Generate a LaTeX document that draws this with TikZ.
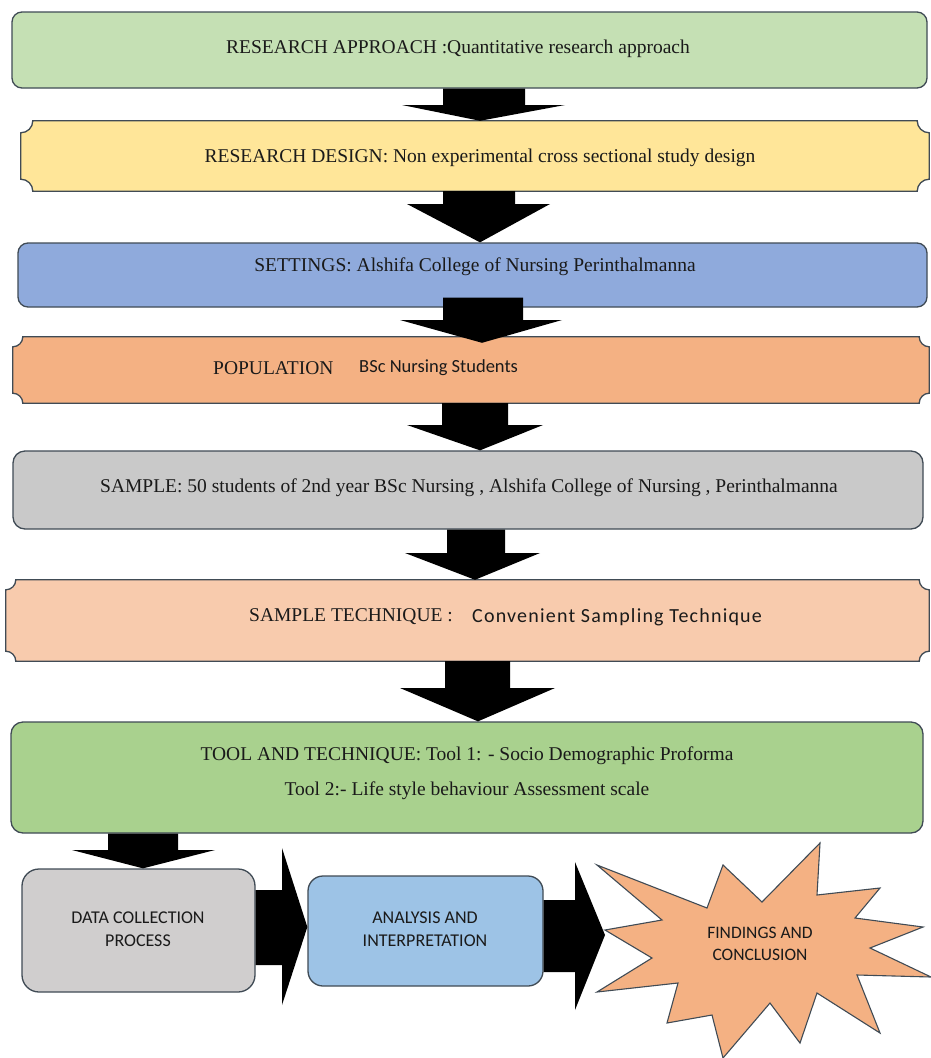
\documentclass[tikz,border=0pt]{standalone}
\usepackage{fontspec}
\setmainfont{Liberation Serif}
\newfontfamily\calfont{Carlito}
\newfontfamily\calspfont[LetterSpace=6]{Carlito}
\usetikzlibrary{calc}
\definecolor{edgec}{HTML}{404B55}
\definecolor{txtc}{HTML}{1A1A1A}
\definecolor{cA}{HTML}{C5E0B4}
\definecolor{cB}{HTML}{FFE699}
\definecolor{cC}{HTML}{8FAADC}
\definecolor{cD}{HTML}{F4B183}
\definecolor{cE}{HTML}{C9C9C9}
\definecolor{cF}{HTML}{F8CBAD}
\definecolor{cG}{HTML}{A9D18E}
\definecolor{cH}{HTML}{D0CECE}
\definecolor{cI}{HTML}{9DC3E6}
\definecolor{cJ}{HTML}{F4B183}
\newcommand\plaquedraw[3]{%
 \path[#3] ($(#1.north west)+(#2,0)$) -- ($(#1.north east)+(-#2,0)$)
   .. controls ($(#1.north east)+(-#2,0.552*#2)$) and ($(#1.north east)+(-0.552*#2,#2)$) .. ($(#1.north east)+(0,#2)$)
   -- ($(#1.south east)+(0,-#2)$)
   .. controls ($(#1.south east)+(-0.552*#2,-#2)$) and ($(#1.south east)+(-#2,-0.552*#2)$) .. ($(#1.south east)+(-#2,0)$)
   -- ($(#1.south west)+(#2,0)$)
   .. controls ($(#1.south west)+(#2,-0.552*#2)$) and ($(#1.south west)+(0.552*#2,-#2)$) .. ($(#1.south west)+(0,-#2)$)
   -- ($(#1.north west)+(0,#2)$)
   .. controls ($(#1.north west)+(0.552*#2,#2)$) and ($(#1.north west)+(#2,0.552*#2)$) .. cycle;}
\tikzset{
 rbox/.style={draw=edgec, line width=1.3pt, rounded corners=#1, rectangle, inner sep=0pt},
 pbox/.style={rectangle, inner sep=0pt},
 pline/.style={draw=edgec, line width=1.3pt},
 serif/.style={font=\fontsize{19.5}{23}\selectfont, text=txtc, inner sep=0pt},
 sans/.style={font=\calfont\fontsize{18}{23}\selectfont, text=txtc, inner sep=0pt, align=center},
 blk/.style={fill=black},
}
\begin{document}
\begin{tikzpicture}[x=1pt,y=-1pt]
\useasboundingbox (0,0) rectangle (931,1058);
\fill[white] (0,0) rectangle (931,1058);
% boxes
\node[rbox=10, fill=cA, minimum width=915pt, minimum height=76pt] (b1) at (469.5,50) {};
\node[pbox, minimum width=908pt, minimum height=70pt] (b2) at (475,156) {};
\plaquedraw{b2}{12}{pline, fill=cB}
\node[rbox=10, fill=cC, minimum width=909pt, minimum height=64pt] (b3) at (472.5,275) {};
\node[pbox, minimum width=916pt, minimum height=66pt] (b4) at (471,370) {};
\plaquedraw{b4}{10}{pline, fill=cD}
\node[rbox=12, fill=cE, minimum width=910pt, minimum height=78pt] (b5) at (468,490) {};
\node[pbox, minimum width=923pt, minimum height=81pt] (b6) at (467.5,620.5) {};
\plaquedraw{b6}{10}{pline, fill=cF}
\node[rbox=12, fill=cG, minimum width=912pt, minimum height=111pt] (b7) at (467,777.5) {};
\node[rbox=17, fill=cH, minimum width=233pt, minimum height=123pt] (b8) at (138.5,930.5) {};
\node[rbox=15, fill=cI, minimum width=235pt, minimum height=110pt] (b9) at (425.5,931) {};
% star
\path[pline, fill=cJ, line width=1.1pt] (597,865) -- (707,908) -- (723,865) -- (762,902) -- (820,843) -- (817,895)
 -- (880,888) -- (855,918) -- (923,927) -- (870,948) -- (931,977) -- (857,975) -- (880,1033)
 -- (817,993) -- (800,1043) -- (770,1003) -- (723,1058) -- (712,1015) -- (667,1023) -- (678,983)
 -- (597,992) -- (652,958) -- (605,930) -- (662,920) -- cycle;
% texts
\node[serif] (t1) at (458,49) {RESEARCH APPROACH :Quantitative research approach};
\node[serif] (t2) at (480,158) {RESEARCH DESIGN: Non experimental cross sectional study design};
\node[serif] (t3) at (475,267) {SETTINGS: Alshifa College of Nursing Perinthalmanna};
\node[serif, anchor=west] (t4a) at (213,368) {POPULATION};
\node[sans, font=\calfont\fontsize{18.5}{22}\selectfont, anchor=west] (t4b) at (359,368) {BSc Nursing Students};
\node[serif] (t5) at (469,488) {SAMPLE: 50 students of 2nd year BSc Nursing , Alshifa College of Nursing , Perinthalmanna};
\node[serif, anchor=west] (t6a) at (249,617) {SAMPLE TECHNIQUE :};
\node[sans, font=\calspfont\fontsize{20}{22}\selectfont, anchor=west] (t6b) at (472,617) {Convenient Sampling Technique};
\node[serif] (t7a) at (467,756) {TOOL AND TECHNIQUE: Tool 1: - Socio Demographic Proforma};
\node[serif] (t7b) at (467,791) {Tool 2:- Life style behaviour Assessment scale};
\node[sans] (t8) at (138,929) {DATA COLLECTION\\PROCESS};
\node[sans] (t9) at (425,929) {ANALYSIS AND\\INTERPRETATION};
\node[sans, font=\calfont\fontsize{17.5}{22}\selectfont] (t10) at (760,944) {FINDINGS AND\\CONCLUSION};
% down block arrows
\fill[blk] (443,0 |- b1.south) -- (525,0 |- b1.south) -- (525,105) -- (565,105) -- (480,0 |- b2.north) -- (402,105) -- (443,105) -- cycle;
\fill[blk] (443,0 |- b2.south) -- (515,0 |- b2.south) -- (515,204) -- (550,204) -- (480,0 |- b3.north) -- (407,204) -- (443,204) -- cycle;
\coordinate (a3s) at ($(b3.south)+(0,-10)$);
\coordinate (a3e) at ($(b4.north)+(0,6)$);
\fill[blk] (443,0 |- a3s) -- (523,0 |- a3s) -- (523,320) -- (562,320) -- (482,0 |- a3e) -- (400,320) -- (443,320) -- cycle;
\fill[blk] (442,0 |- b4.south) -- (508,0 |- b4.south) -- (508,425) -- (543,425) -- (480,0 |- b5.north) -- (407,425) -- (442,425) -- cycle;
\fill[blk] (447,0 |- b5.south) -- (505,0 |- b5.south) -- (505,553) -- (540,553) -- (475,0 |- b6.north) -- (405,553) -- (447,553) -- cycle;
\fill[blk] (445,0 |- b6.south) -- (510,0 |- b6.south) -- (510,688) -- (555,688) -- (478,0 |- b7.north) -- (400,688) -- (445,688) -- cycle;
\fill[blk] (108,0 |- b7.south) -- (178,0 |- b7.south) -- (178,850) -- (215,850) -- (143,0 |- b8.north) -- (72,850) -- (108,850) -- cycle;
% right block arrows
\fill[blk] (b8.east |- 0,890) -- (282,890) -- (282,848) -- (b9.west |- 0,927) -- (282,1005) -- (282,965) -- (b8.east |- 0,965) -- cycle;
\fill[blk] (b9.east |- 0,900) -- (575,900) -- (575,862) -- (605,935) -- (575,1010) -- (575,972) -- (b9.east |- 0,972) -- cycle;
\end{tikzpicture}
\end{document}
